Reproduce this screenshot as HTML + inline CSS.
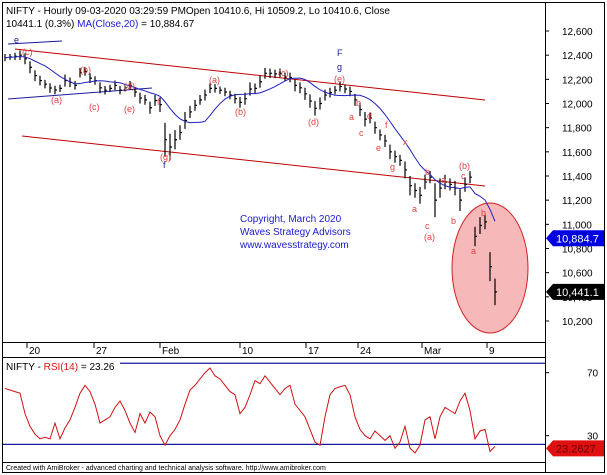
<!DOCTYPE html>
<html><head><meta charset="utf-8"><style>
body{margin:0;background:#fff;}
svg{display:block;font-family:"Liberation Sans",Arial,sans-serif;}
</style></head><body>
<svg id="c" width="607" height="475" viewBox="0 0 607 475">
<rect x="0" y="0" width="607" height="475" fill="#fff"/>
<rect x="2.5" y="2.5" width="602" height="470" fill="none" stroke="#000"/>
<line x1="545.5" y1="3" x2="545.5" y2="472" stroke="#000"/>
<line x1="3" y1="342.5" x2="545" y2="342.5" stroke="#000"/>
<line x1="3" y1="357.5" x2="545" y2="357.5" stroke="#000"/>
<line x1="3" y1="462.5" x2="545" y2="462.5" stroke="#000"/>
<g id="grid"></g>
<g id="overlay">
<line x1="15" y1="49" x2="485" y2="100" stroke="#c00000"/>
<line x1="22" y1="136" x2="485" y2="186" stroke="#c00000"/>
<line x1="8" y1="99" x2="152" y2="88" stroke="#1a1aa0"/>
<line x1="8" y1="44" x2="62" y2="41" stroke="#1a1aa0"/>
<ellipse cx="490" cy="268" rx="38" ry="65" fill="#f6b8b8" stroke="#d02020"/>
</g>
<g id="bars"></g>
<g id="labels" font-size="9" fill="#e04040">
<text x="22" y="55">(c)</text>
<text x="51" y="103">(a)</text>
<text x="80" y="73">(b)</text>
<text x="89" y="110">(c)</text>
<text x="124" y="89">(d)</text>
<text x="124" y="112">(e)</text>
<text x="157" y="105">f</text>
<text x="160" y="160">(g)</text>
<text x="209" y="83">(a)</text>
<text x="235" y="115">(b)</text>
<text x="278" y="76">(c)</text>
<text x="308" y="125">(d)</text>
<text x="334" y="82">(e)</text>
<text x="349" y="120">a</text>
<text x="356" y="106">b</text>
<text x="359" y="136">c</text>
<text x="367" y="119">d</text>
<text x="376" y="151">e</text>
<text x="385" y="128">f</text>
<text x="390" y="170">g</text>
<text x="403" y="145">x</text>
<text x="425" y="175">b</text>
<text x="412" y="212">a</text>
<text x="425" y="229">c</text>
<text x="424" y="240">(a)</text>
<text x="441" y="183">a</text>
<text x="451" y="224">b</text>
<text x="459" y="169">(b)</text>
<text x="461" y="179">c</text>
<text x="481" y="216">b</text>
<text x="471" y="254">a</text>
<text x="14" y="43" fill="#1a1aa0">e</text>
<text x="163" y="168" fill="#1a1aa0">f</text>
<text x="337" y="56" fill="#1a1aa0">F</text>
<text x="337" y="70" fill="#1a1aa0">g</text>
</g>
<g font-size="10" fill="#1a1ad0">
<text x="240" y="222">Copyright, March 2020</text>
<text x="240" y="235">Waves Strategy Advisors</text>
<text x="240" y="248">www.wavesstrategy.com</text>
</g>
<text x="6" y="14" font-size="10" fill="#000">NIFTY - Hourly 09-03-2020 03:29:59 PMOpen 10410.6, Hi 10509.2, Lo 10410.6, Close</text>
<text x="6" y="27" font-size="10"><tspan fill="#000">10441.1 (0.3%) </tspan><tspan fill="#1a1ad0">MA(Close,20)</tspan><tspan fill="#000"> = 10,884.67</tspan></text>
<text x="6" y="370" font-size="10"><tspan fill="#000">NIFTY - </tspan><tspan fill="#e01010">RSI(14)</tspan><tspan fill="#000"> = 23.26</tspan></text>
<text x="6" y="470" font-size="7" fill="#000">Created with AmiBroker - advanced charting and technical analysis software. http://www.amibroker.com</text>
</svg>
<script>
const priceTicks=[12600,12400,12200,12000,11800,11600,11400,11200,11000,10800,10600,10400,10200];
const dateLabels=["20","27","Feb","10","17","24","Mar","9"];
const dateIdx=[4.4,17.8,31,47,60.2,70.6,83.4,96.4];
const closes=[12380,12385,12390,12400,12370,12300,12230,12190,12160,12128,12112,12125,12190,12175,12150,12255,12265,12210,12190,12130,12110,12125,12150,12110,12130,12150,12095,12045,12030,11965,12025,11990,11700,11640,11700,11760,11860,11930,11985,12030,12070,12125,12125,12110,12095,12070,12040,12010,12040,12120,12125,12180,12250,12250,12245,12250,12220,12215,12150,12130,12080,12020,11960,12000,12070,12090,12110,12140,12120,12100,12030,11950,11870,11880,11800,11740,11690,11600,11560,11530,11450,11320,11280,11240,11350,11390,11200,11300,11350,11330,11300,11200,11330,11390,10900,10990,11020,10650,10441];
const spreads=[30,25,30,40,45,50,45,40,35,40,35,30,50,40,35,40,35,40,35,45,35,30,40,35,30,35,40,45,40,50,45,60,140,110,80,60,70,50,45,40,45,40,35,30,35,35,40,45,50,55,40,50,45,40,35,40,35,40,50,45,50,55,60,50,45,40,35,40,35,40,50,55,60,45,50,45,50,60,50,45,70,80,60,70,60,50,140,80,60,50,60,90,60,50,80,70,60,120,110];
const rsi=[60,59,58,57,44,36,31,28,29,28,38,28,35,40,48,57,62,58,50,38,40,42,48,52,46,38,32,44,38,45,42,30,24,30,34,40,50,59,62,66,70,73,68,66,62,58,56,44,48,56,65,63,68,64,60,56,60,62,50,46,42,34,26,24,42,56,60,61,62,56,42,34,30,28,33,30,27,30,22,26,36,22,19,24,40,42,28,42,48,46,44,52,57,46,28,33,34,20,23.26];
const rsiTicks=[70,30];
const rsiBands=[76,24.5];
const maPeriod=9;
const NS="http://www.w3.org/2000/svg";
const xs=i=>5+5*i;
const yp=p=>31+(12600-p)*0.12083;
const yr=v=>372.7-(v-70)*1.575;
function mk(tag,attrs,parent){const e=document.createElementNS(NS,tag);for(const k in attrs)e.setAttribute(k,attrs[k]);parent.appendChild(e);return e;}
const svg=document.getElementById('c');
const grid=document.getElementById('grid');
priceTicks.forEach(t=>{const y=yp(t);
const tk=mk('line',{x1:545,y1:y,x2:549,y2:y,stroke:'#000'},grid);


const tx=mk('text',{x:562,y:y+4,'font-size':10,fill:'#000'},svg);
tx.textContent=t.toLocaleString('en-US');

});
dateLabels.forEach((d,k)=>{const x=xs(dateIdx[k]);
const tk=mk('line',{x1:x,y1:342,x2:x,y2:348,stroke:'#000'},grid);


const tx=mk('text',{x:x+2,y:354,'font-size':10,fill:'#000'},svg);
tx.textContent=d;

});
const bars=document.getElementById('bars');
closes.forEach((c,i)=>{const x=xs(i);const s=spreads[i];
const b=mk('path',{d:`M${x} ${yp(c+s)}V${yp(c-s)}M${x} ${yp(c)}H${x+2}`,stroke:'#000','stroke-width':1.2,fill:'none'},bars);

});
let maPts=[];
closes.forEach((c,i)=>{const a=closes.slice(Math.max(0,i-maPeriod+1),i+1);const m=a.reduce((s,v)=>s+v,0)/a.length;maPts.push(xs(i)+','+yp(m));});
const ma=mk('polyline',{points:maPts.join(' '),fill:'none',stroke:'#2020c0','stroke-width':1},bars);


rsiBands.forEach(v=>{const l=mk('line',{x1:120,y1:yr(v),x2:545,y2:yr(v),stroke:'#1a1aa0','stroke-width':1.2},svg);
if(v<50)l.setAttribute('x1',3);

});
rsiTicks.forEach(v=>{const y=yr(v);
const tk=mk('line',{x1:545,y1:y,x2:549,y2:y,stroke:'#000'},svg);


const tx=mk('text',{x:587,y:y+4,'font-size':10,fill:'#000'},svg);
tx.textContent=v;

});
const rl=mk('polyline',{points:rsi.map((v,i)=>xs(i)+','+yr(v)).join(' '),fill:'none',stroke:'#d01010','stroke-width':1},svg);


function box(y,txt,bg,fg,name){const g=mk('g',{},svg);


mk('path',{d:`M546 ${y} L553 ${y-8} H604 V${y+8} H553 Z`,fill:bg},g);
const t=mk('text',{x:556,y:y+4,'font-size':11,fill:fg},g);t.textContent=txt;}
box(yp(10884.7),'10,884.7','#0000e0','#fff','ma-value-box');
box(yp(10441.1),'10,441.1','#000','#fff','close-value-box');
box(yr(23.26)+2,'23.2627','#e01010','#600','rsi-value-box');
</script>
</body></html>
